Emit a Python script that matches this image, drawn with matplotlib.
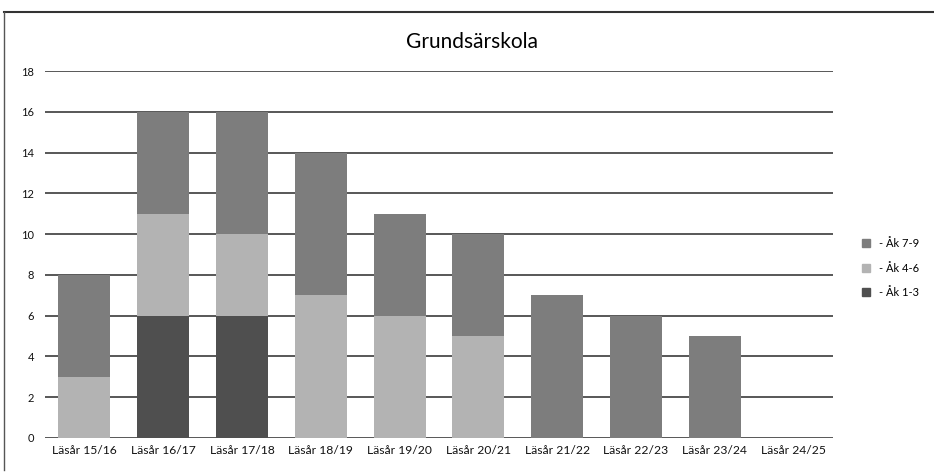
# Grundsärskola - staplade staplar per läsår
import numpy as np
import matplotlib.pyplot as plt
from matplotlib.lines import Line2D

plt.rcParams['font.family'] = ['Lato', 'DejaVu Sans']

lasar = ['Läsår 15/16', 'Läsår 16/17', 'Läsår 17/18', 'Läsår 18/19', 'Läsår 19/20',
         'Läsår 20/21', 'Läsår 21/22', 'Läsår 22/23', 'Läsår 23/24', 'Läsår 24/25']
ak_1_3 = [0, 6, 6, 0, 0, 0, 0, 0, 0, 0]
ak_4_6 = [3, 5, 4, 7, 6, 5, 0, 0, 0, 0]
ak_7_9 = [5, 5, 6, 7, 5, 5, 7, 6, 5, 0]

farg_1_3 = '#4f4f4f'
farg_4_6 = '#b3b3b3'
farg_7_9 = '#7d7d7d'

fig = plt.figure(figsize=(9.34, 4.74), dpi=100)
ax = fig.add_axes([45 / 934, 1 - 438 / 474, 788 / 934, 367 / 474])

x = np.arange(len(lasar))
b1 = np.array(ak_1_3)
b2 = b1 + np.array(ak_4_6)
ax.bar(x, ak_1_3, width=0.66, color=farg_1_3, zorder=3)
ax.bar(x, ak_4_6, width=0.66, bottom=b1, color=farg_4_6, zorder=3)
ax.bar(x, ak_7_9, width=0.66, bottom=b2, color=farg_7_9, zorder=3)

ax.set_ylim(0, 18)
ax.set_xlim(-0.5, len(lasar) - 0.5)
ax.set_yticks(range(0, 19, 2))
ax.set_xticks(x)
ax.set_xticklabels(lasar)
ax.tick_params(length=0, labelsize=8.7, colors='#111111')
ax.tick_params(axis='y', pad=8, labelsize=8)
ax.tick_params(axis='x', pad=5)
ax.yaxis.grid(True, color='#4a4a4a', linewidth=1.3, zorder=0)
for s in ax.spines.values():
    s.set_visible(False)

fig.text(472 / 934, 1 - 42 / 474, 'Grundsärskola', ha='center', va='center', fontsize=15)

# ram från inskanningen
fig.add_artist(Line2D([4 / 934, 1], [1 - 12 / 474, 1 - 12 / 474], color='#333333', lw=1.5))
fig.add_artist(Line2D([4 / 934, 4 / 934], [1 - 12 / 474, 1 - 470 / 474], color='#555555', lw=1))

handles = [plt.Rectangle((0, 0), 1, 1, color=c) for c in (farg_7_9, farg_4_6, farg_1_3)]
fig.legend(handles, ['- Åk 7-9', '- Åk 4-6', '- Åk 1-3'], loc='center left',
           bbox_to_anchor=(852 / 934, 1 - 268 / 474), frameon=False, fontsize=8,
           handlelength=0.7, handleheight=0.7, labelspacing=1.2, handletextpad=0.8)

plt.savefig('out.png', dpi=100)
